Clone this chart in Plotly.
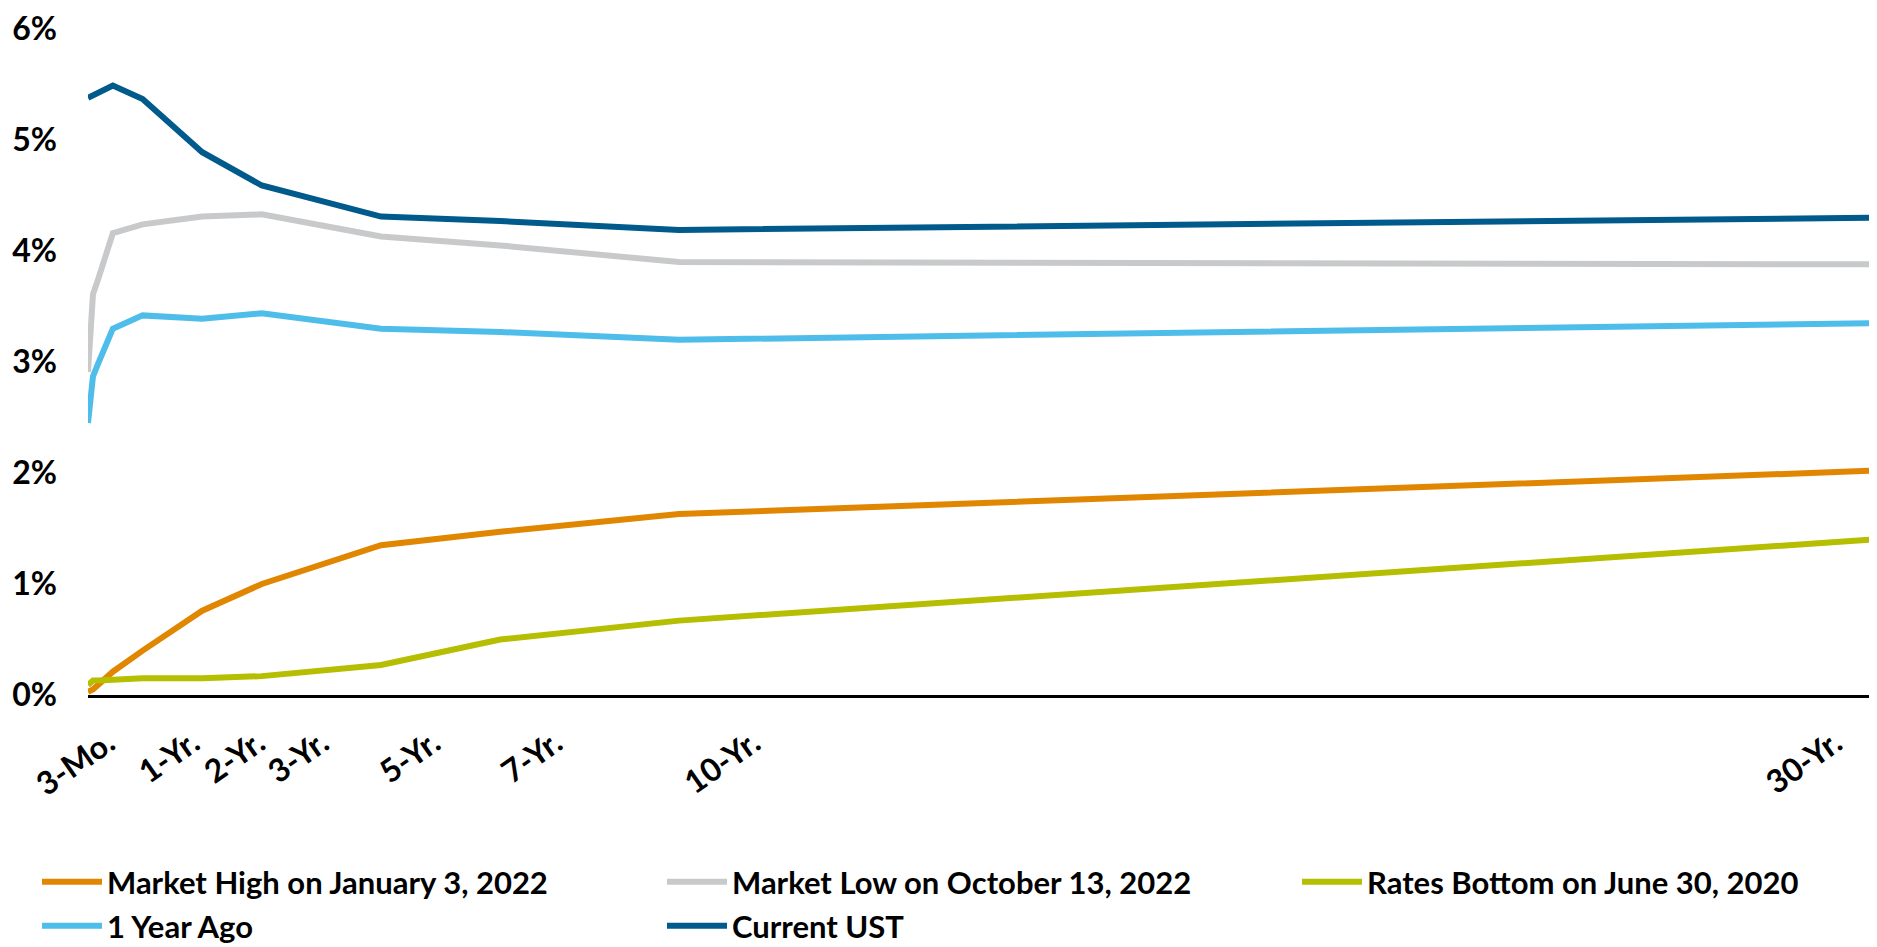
import plotly.graph_objects as go

# maturities in years
maturity = [1 / 12, 2 / 12, 3 / 12, 6 / 12, 1, 2, 3, 5, 7, 10, 30]

market_high = [0.03, 0.05, 0.09, 0.21, 0.40, 0.76, 1.00, 1.35, 1.47, 1.63, 2.02]
market_low = [2.91, 3.61, 3.74, 4.16, 4.24, 4.31, 4.33, 4.13, 4.05, 3.90, 3.88]
rates_bottom = [0.09, 0.13, 0.13, 0.14, 0.15, 0.15, 0.17, 0.27, 0.50, 0.67, 1.40]
year_ago = [2.45, 2.87, 2.98, 3.30, 3.42, 3.39, 3.44, 3.30, 3.27, 3.20, 3.35]
current_ust = [5.38, 5.40, 5.42, 5.49, 5.37, 4.89, 4.59, 4.31, 4.27, 4.19, 4.30]

tick_labels = ["3-Mo.", "1-Yr.", "2-Yr.", "3-Yr.", "5-Yr.", "7-Yr.", "10-Yr.", "30-Yr."]
tick_pos = [0.42, 1.84, 2.94, 4.01, 5.88, 7.93, 11.25, 29.4]

# (name, values, colour, legend box)
series = [
    ("Market High on January 3, 2022", market_high, "#E08600", "legend"),
    ("Market Low on October 13, 2022", market_low, "#C8C9CB", "legend"),
    ("Rates Bottom on June 30, 2020", rates_bottom, "#B5BE00", "legend3"),
    ("1 Year Ago", year_ago, "#4EBDEA", "legend2"),
    ("Current UST", current_ust, "#005A8C", "legend2"),
]

FONT = "Lato"
font_main = dict(family=FONT, size=32, color="#000000", weight="bold")

# page body adds an 8px offset, so the figure is a bit smaller than the window
W, H = 1869, 939

fig = go.Figure()
for name, vals, color, leg in series:
    fig.add_trace(
        go.Scatter(
            x=maturity,
            y=vals,
            mode="lines",
            name=name,
            line=dict(color=color, width=6),
            legend=leg,
        )
    )

legend_style = dict(
    orientation="h",
    xref="container",
    yref="container",
    xanchor="left",
    yanchor="middle",
    itemwidth=60,
    font=dict(font_main, size=31),
    bgcolor="rgba(0,0,0,0)",
)

row1 = 1 - 874 / H
row2 = 1 - 918 / H

fig.update_layout(
    width=W,
    height=H,
    plot_bgcolor="white",
    paper_bgcolor="white",
    margin=dict(l=80, r=6, t=21, b=252),
    font=font_main,
    legend=dict(legend_style, x=29 / W, y=row1, entrywidth=550),
    legend3=dict(legend_style, x=1289 / W, y=row1),
    legend2=dict(legend_style, x=29 / W, y=row2, entrywidth=550),
)

fig.update_xaxes(
    range=[1 / 12, 30],
    tickvals=tick_pos,
    ticktext=tick_labels,
    tickangle=-35,
    showgrid=False,
    zeroline=False,
    showline=True,
    linecolor="black",
    linewidth=3,
    ticks="",
    ticklabelstandoff=14,
    ticklabeloverflow="allow",
    automargin=False,
)

fig.update_yaxes(
    range=[0, 6],
    dtick=1,
    ticksuffix="%",
    showgrid=False,
    zeroline=False,
    showline=False,
    ticks="",
    ticklabelstandoff=30,
    ticklabeloverflow="allow",
    automargin=False,
)

fig.write_html("out.html")
